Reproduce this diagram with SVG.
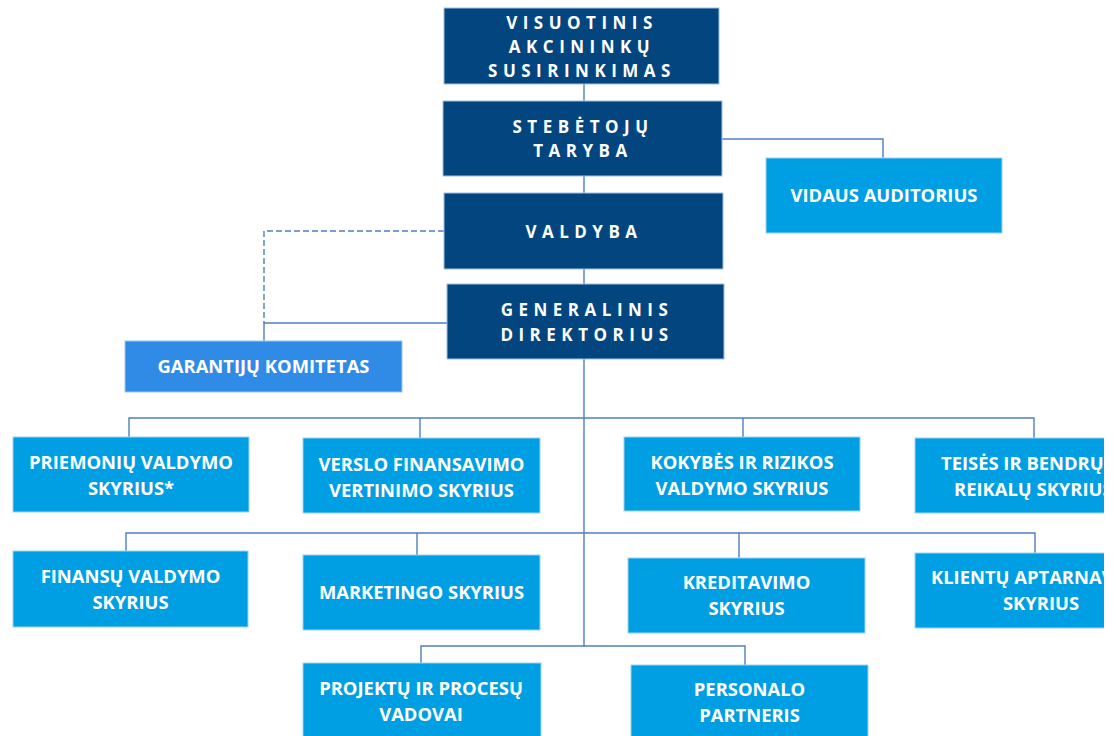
<svg xmlns="http://www.w3.org/2000/svg" width="1115" height="736" viewBox="0 0 1115 736">
<style>
.dark{fill:#03467f;stroke:#9cc0e4;stroke-width:1}
.light{fill:#009fe3;stroke:#9cd4f0;stroke-width:1}
.gar{fill:#2f8be6;stroke:#9cc6f0;stroke-width:1}
.td{font-family:"Open Sans","DejaVu Sans",sans-serif;font-weight:700;font-size:17px;letter-spacing:5.5px;fill:#fff;text-anchor:middle}
.tl{font-family:"Open Sans","DejaVu Sans",sans-serif;font-weight:700;font-size:18.4px;fill:#fff;text-anchor:middle}
.tls{font-family:"Open Sans","DejaVu Sans",sans-serif;font-weight:700;font-size:18.4px;fill:#fff}
.c{fill:none;stroke:#4f7fc4;stroke-width:1.4}
.dash{fill:none;stroke:#4f7fc4;stroke-width:1.4;stroke-dasharray:6 3}
</style>
<defs>
<clipPath id="clipR"><rect x="0" y="0" width="1104" height="736"/></clipPath>
</defs>
<g id="connectors">
<path class="c" d="M584 84V101M584 176V193M584 269V284M584 359V647"/>
<path class="c" d="M722 139H883V158"/>
<path class="dash" d="M444 231H264V323"/>
<path class="c" d="M447 323H264V341"/>
<path class="c" d="M129 437V418H1034V438M420 418V438M743 418V437"/>
<path class="c" d="M126 551V533H1035V553M417 533V555M739 533V558"/>
<path class="c" d="M421 663V646H745V665"/>
</g>
<g id="n1"><rect class="dark" x="444" y="8" width="275" height="76"/>
<text class="td" x="582" y="29">VISUOTINIS</text><text class="td" x="582" y="53">AKCININKŲ</text><text class="td" x="582" y="77">SUSIRINKIMAS</text></g>
<g id="n2"><rect class="dark" x="443" y="101" width="279" height="75"/>
<text class="td" x="583" y="133">STEBĖTOJŲ</text><text class="td" x="583" y="157">TARYBA</text></g>
<g id="n3"><rect class="light" x="766" y="158" width="236" height="75"/>
<text class="tl" x="884" y="202">VIDAUS AUDITORIUS</text></g>
<g id="n4"><rect class="dark" x="444" y="193" width="279" height="76"/>
<text class="td" x="584" y="238">VALDYBA</text></g>
<g id="n5"><rect class="dark" x="447" y="284" width="277" height="75"/>
<text class="td" x="587" y="316">GENERALINIS</text><text class="td" x="587" y="341">DIREKTORIUS</text></g>
<g id="n6"><rect class="gar" x="125" y="341" width="277" height="51"/>
<text class="tl" x="263.5" y="373">GARANTIJŲ KOMITETAS</text></g>
<g id="n7"><rect class="light" x="13" y="437" width="236" height="75"/>
<text class="tl" x="131" y="469">PRIEMONIŲ VALDYMO</text><text class="tl" x="131" y="495">SKYRIUS*</text></g>
<g id="n8"><rect class="light" x="303" y="438" width="237" height="75"/>
<text class="tl" x="421.5" y="471">VERSLO FINANSAVIMO</text><text class="tl" x="421.5" y="497">VERTINIMO SKYRIUS</text></g>
<g id="n9"><rect class="light" x="624" y="437" width="236" height="74"/>
<text class="tl" x="742" y="469">KOKYBĖS IR RIZIKOS</text><text class="tl" x="742" y="495">VALDYMO SKYRIUS</text></g>
<g id="n10" clip-path="url(#clipR)"><rect class="light" x="915" y="438" width="237" height="75"/>
<text class="tls" x="941" y="470">TEISĖS IR BENDRŲ</text><text class="tls" x="954" y="496">REIKALŲ SKYRIUS</text></g>
<g id="n11"><rect class="light" x="13" y="551" width="235" height="76"/>
<text class="tl" x="130.5" y="583">FINANSŲ VALDYMO</text><text class="tl" x="130.5" y="609">SKYRIUS</text></g>
<g id="n12"><rect class="light" x="303" y="555" width="237" height="75"/>
<text class="tl" x="421.5" y="599">MARKETINGO SKYRIUS</text></g>
<g id="n13"><rect class="light" x="628" y="558" width="237" height="75"/>
<text class="tl" x="746.5" y="589">KREDITAVIMO</text><text class="tl" x="746.5" y="615">SKYRIUS</text></g>
<g id="n14" clip-path="url(#clipR)"><rect class="light" x="915" y="553" width="237" height="75"/>
<text class="tls" x="931" y="584">KLIENTŲ APTARNAV</text><text class="tl" x="1041" y="610">SKYRIUS</text></g>
<g id="n15"><rect class="light" x="303" y="663" width="238" height="80"/>
<text class="tl" x="421" y="695">PROJEKTŲ IR PROCESŲ</text><text class="tl" x="421" y="721">VADOVAI</text></g>
<g id="n16"><rect class="light" x="631" y="665" width="237" height="80"/>
<text class="tl" x="749.5" y="696">PERSONALO</text><text class="tl" x="749.5" y="722">PARTNERIS</text></g>
</svg>
